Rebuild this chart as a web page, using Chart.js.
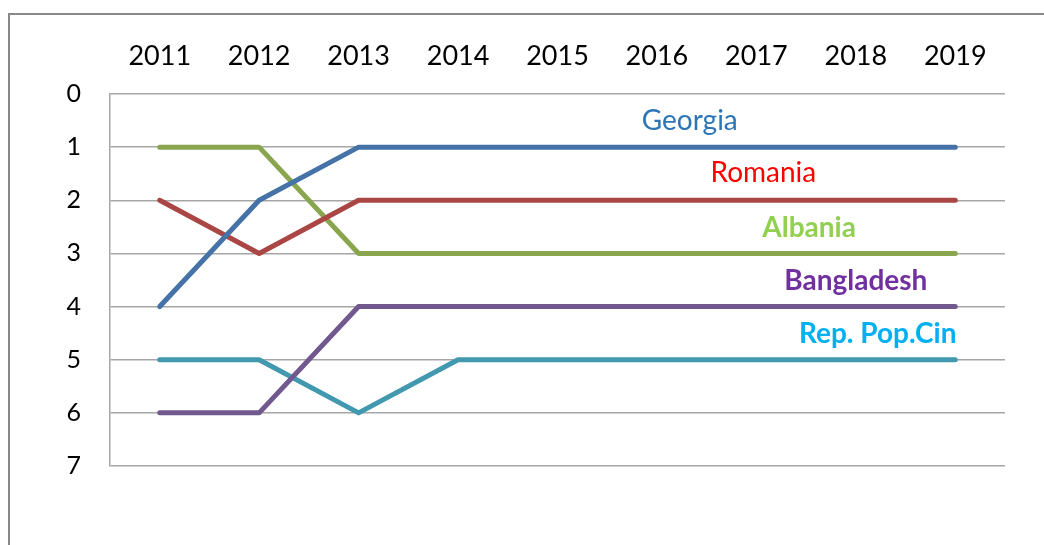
<!DOCTYPE html>
<html>
<head>
<meta charset="utf-8">
<script src="https://cdn.jsdelivr.net/npm/chart.js@4"></script>
<style>
    html, body { margin: 0; padding: 0; background: #fff; }
    #wrap { position: relative; width: 1044px; height: 545px; overflow: hidden; }
    #frame {
        position: absolute; left: 8px; top: 13px; width: 1100px; height: 600px;
        border-left: 2px solid #888; border-top: 2px solid #888;
    }
    #chart { position: absolute; left: 0; top: 0; }
</style>
</head>
<body>
<div id="wrap">
    <div id="frame"></div>
    <canvas id="chart" width="1044" height="545"></canvas>
</div>
<script>
// Ranking by year (1 = best)
const years = ['2011', '2012', '2013', '2014', '2015', '2016', '2017', '2018', '2019'];
const georgia    = [4, 2, 1, 1, 1, 1, 1, 1, 1];
const romania    = [2, 3, 2, 2, 2, 2, 2, 2, 2];
const albania    = [1, 1, 3, 3, 3, 3, 3, 3, 3];
const bangladesh = [6, 6, 4, 4, 4, 4, 4, 4, 4];
const china      = [5, 5, 6, 5, 5, 5, 5, 5, 5];
const countryNames = ['Georgia', 'Romania', 'Albania', 'Bangladesh', 'Rep. Pop.Cin'];
const rankTicks = [0, 1, 2, 3, 4, 5, 6, 7];

const lineColors = ['#4572A7', '#AA4643', '#89A54E', '#71588F', '#4198AF'];

// Country name labels written above each line, in data coordinates
const nameLabels = [
    { x: 5.33, y: 0.5,  color: '#2E75B6', bold: false },
    { x: 6.07, y: 1.48, color: '#FF0000', bold: false },
    { x: 6.53, y: 2.52, color: '#92D050', bold: true },
    { x: 7.0,  y: 3.52, color: '#7030A0', bold: true },
    { x: 7.22, y: 4.52, color: '#00B0F0', bold: true }
];

const nameLabelPlugin = {
    id: 'nameLabels',
    afterDatasetsDraw(chart) {
        const ctx = chart.ctx;
        const xs = chart.scales.x;
        const ys = chart.scales.y;
        ctx.save();
        ctx.textAlign = 'center';
        ctx.textBaseline = 'middle';
        nameLabels.forEach(function(l, i) {
            ctx.font = (l.bold ? 'bold ' : '') + '28px Lato';
            ctx.fillStyle = l.color;
            ctx.fillText(countryNames[i], xs.getPixelForValue(l.x), ys.getPixelForValue(l.y));
        });
        ctx.restore();
    }
};

const series = [georgia, romania, albania, bangladesh, china];

new Chart(document.getElementById('chart'), {
    type: 'line',
    data: {
        labels: years,
        datasets: series.map(function(values, i) {
            return {
                label: countryNames[i],
                data: values,
                borderColor: lineColors[i],
                borderWidth: 5,
                borderCapStyle: 'round',
                borderJoinStyle: 'round',
                pointRadius: 0,
                tension: 0
            };
        })
    },
    options: {
        responsive: false,
        animation: false,
        layout: { padding: { top: 0, right: 39, bottom: 79, left: 0 } },
        plugins: {
            legend: { display: false },
            tooltip: { enabled: false }
        },
        scales: {
            x: {
                position: 'top',
                offset: true,
                grid: { display: false },
                border: { display: false },
                ticks: {
                    color: '#000',
                    font: { family: 'Lato', size: 27 },
                    padding: 14,
                    maxRotation: 0
                },
                afterFit: function(scale) { scale.height = 94; }
            },
            y: {
                reverse: true,
                min: 0,
                max: 7,
                afterBuildTicks: function(scale) {
                    scale.ticks = rankTicks.map(function(v) { return { value: v }; });
                },
                grid: { color: '#a6a6a6', lineWidth: 1.5, drawTicks: false },
                border: { color: '#a6a6a6', width: 1.5 },
                ticks: {
                    color: '#000',
                    font: { family: 'Lato', size: 25 },
                    padding: 29
                },
                afterFit: function(scale) { scale.width = 110; }
            }
        }
    },
    plugins: [nameLabelPlugin]
});
</script>
</body>
</html>
